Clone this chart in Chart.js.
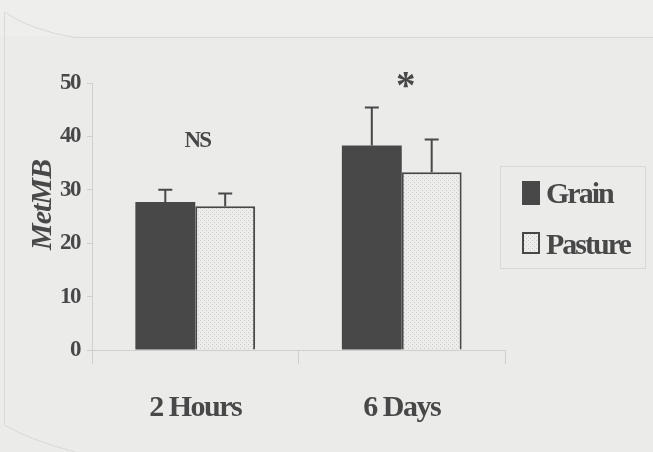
<!DOCTYPE html>
<html>
<head>
<meta charset="utf-8">
<script src="https://cdn.jsdelivr.net/npm/chart.js@4/dist/chart.umd.min.js"></script>
<style>
  html, body { margin: 0; padding: 0; background: #ebebea; }
  canvas { display: block; }
</style>
</head>
<body>
<canvas id="canvas" width="653" height="452"></canvas>
<script>
const categories = ['2 Hours', '6 Days'];
const grain = [27.7, 38.3];
const grainErr = [2.3, 7.1];
const pasture = [26.9, 33.3];
const pastureErr = [2.4, 6.1];
const marks = ['NS', '*'];
const yTicks = [0, 10, 20, 30, 40, 50];

const ink = '#484848';
const serif = '"Liberation Serif", "DejaVu Serif", serif';

// dotted fill for the pasture bars
function dots() {
  const p = document.createElement('canvas');
  p.width = 4; p.height = 4;
  const c = p.getContext('2d');
  c.fillStyle = '#ededec';
  c.fillRect(0, 0, 4, 4);
  c.fillStyle = '#c9c9c9';
  c.fillRect(0, 0, 1, 1);
  c.fillRect(2, 2, 1, 1);
  return c.createPattern(p, 'repeat');
}

const canvas = document.getElementById('canvas');
const ctx = canvas.getContext('2d');
const dotFill = dots();

const extras = {
  id: 'extras',
  beforeDraw(chart) {
    const c = chart.ctx;
    c.save();
    c.fillStyle = '#ebebea';
    c.fillRect(0, 0, chart.width, chart.height);
    c.fillStyle = '#eeeeed';
    c.fillRect(0, 0, chart.width, 36);
    // faint page edge from the scan
    c.strokeStyle = '#d9d9d8';
    c.lineWidth = 1;
    c.beginPath();
    c.moveTo(653, 37.5);
    c.lineTo(75, 37.5);
    c.quadraticCurveTo(30, 30, 4.5, 12);
    c.lineTo(4.5, 425);
    c.quadraticCurveTo(30, 440, 75, 452);
    c.stroke();
    c.restore();
    // tight serif like the original typesetting
    c.letterSpacing = '-1.5px';
  },
  afterDatasetsDraw(chart) {
    const c = chart.ctx;
    const y = chart.scales.y;
    const errs = [grainErr, pastureErr];
    c.save();
    c.strokeStyle = ink;
    c.lineWidth = 2;
    chart.data.datasets.forEach((ds, di) => {
      chart.getDatasetMeta(di).data.forEach((bar, i) => {
        const top = y.getPixelForValue(ds.data[i] + errs[di][i]);
        const base = y.getPixelForValue(ds.data[i]);
        c.beginPath();
        c.moveTo(bar.x, base);
        c.lineTo(bar.x, top);
        c.moveTo(bar.x - 7, top);
        c.lineTo(bar.x + 7, top);
        c.stroke();
      });
    });
    // significance marks above each group
    const x = chart.scales.x;
    c.fillStyle = ink;
    c.textAlign = 'center';
    c.textBaseline = 'middle';
    marks.forEach((m, i) => {
      const hi = Math.max(grain[i] + grainErr[i], pasture[i] + pastureErr[i]);
      const cx = x.getPixelForValue(i);
      if (m === '*') {
        c.letterSpacing = '0px';
        c.font = 'bold 39px ' + serif;
        c.fillText(m, cx + 4, y.getPixelForValue(hi) - 20);
      } else {
        c.letterSpacing = '-2px';
        c.font = 'bold 23px ' + serif;
        c.fillText(m, cx + 2, y.getPixelForValue(hi) - 49);
      }
    });
    // y title
    c.letterSpacing = '-1px';
    c.font = 'italic bold 30px ' + serif;
    c.translate(43, 205);
    c.rotate(-Math.PI / 2);
    c.fillText('MetMB', 0, 0);
    c.restore();

    // legend box
    c.save();
    c.strokeStyle = '#d8d8d7';
    c.lineWidth = 1;
    c.strokeRect(500.5, 166.5, 145, 102);
    c.fillStyle = ink;
    c.fillRect(522, 181, 18, 24);
    c.fillStyle = dotFill;
    c.fillRect(523, 233, 16, 20);
    c.strokeStyle = ink;
    c.lineWidth = 2;
    c.strokeRect(523, 233, 16, 20);
    c.fillStyle = ink;
    c.letterSpacing = '-2px';
    c.font = 'bold 30px ' + serif;
    c.textAlign = 'left';
    c.textBaseline = 'alphabetic';
    c.fillText('Grain', 546, 203);
    c.fillText('Pasture', 546, 254);
    c.restore();
  }
};

new Chart(ctx, {
  type: 'bar',
  data: {
    labels: categories,
    datasets: [
      { label: 'Grain', data: grain, backgroundColor: ink, borderWidth: 0 },
      { label: 'Pasture', data: pasture, backgroundColor: dotFill, borderColor: ink, borderWidth: 2, borderSkipped: 'bottom' }
    ]
  },
  options: {
    responsive: false,
    animation: false,
    layout: { padding: { top: 83, right: 148, left: 0, bottom: 0 } },
    datasets: { bar: { categoryPercentage: 0.58, barPercentage: 1 } },
    plugins: { legend: { display: false }, tooltip: { enabled: false } },
    scales: {
      y: {
        min: 0, max: 50,
        afterBuildTicks(s) { s.ticks = yTicks.map(v => ({ value: v })); },
        afterFit(s) { s.width = 92; },
        border: { color: '#cfcfce', width: 1 },
        grid: { drawOnChartArea: false, color: '#cfcfce', tickLength: 5 },
        ticks: { color: ink, padding: 7, font: { family: serif, size: 23, weight: 'bold' } }
      },
      x: {
        afterFit(s) { s.height = 102; },
        border: { color: '#cfcfce', width: 1 },
        grid: { offset: true, drawOnChartArea: false, color: '#cfcfce', tickLength: 14 },
        ticks: { color: ink, padding: 26, font: { family: serif, size: 30, weight: 'bold' } }
      }
    }
  },
  plugins: [extras]
});
</script>
</body>
</html>
